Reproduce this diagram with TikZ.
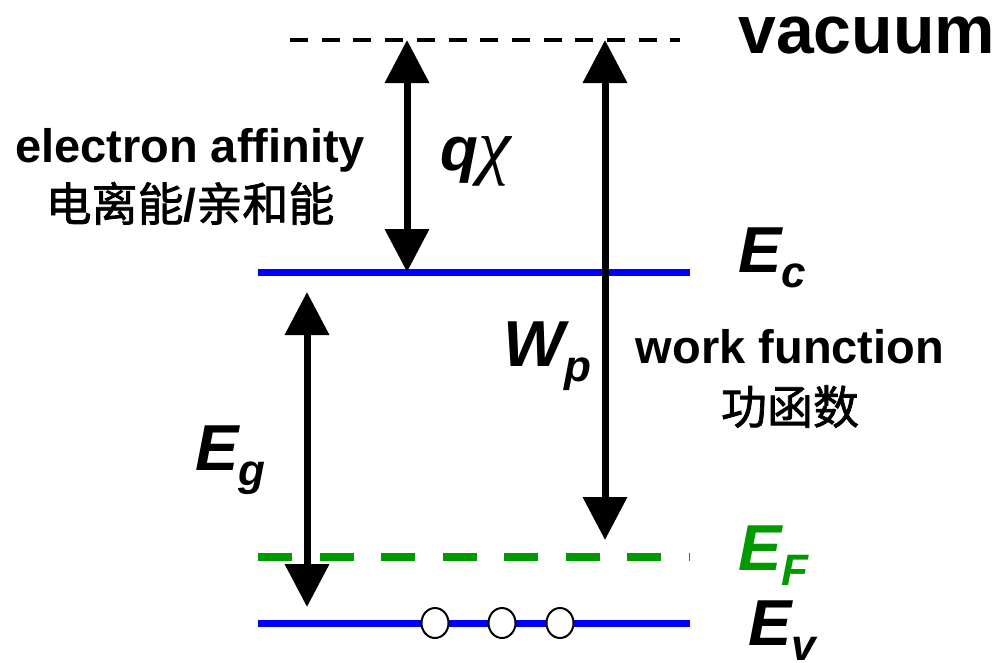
\documentclass[tikz,border=0pt]{standalone}
\usepackage{fontspec}
\setmainfont{Liberation Sans}
\newfontfamily\cjk{Noto Sans CJK SC}[FakeBold=1.6]
\newfontfamily\chifont{Liberation Serif}
\usetikzlibrary{arrows.meta,shapes.geometric}
\definecolor{lvlblue}{RGB}{0,0,255}
\definecolor{lvlgreen}{RGB}{0,153,0}
\newcommand\lvlsym[2]{\fontsize{65}{65}\selectfont\bfseries\itshape #1\raisebox{-15pt}{\fontsize{44}{44}\selectfont #2}}
\begin{document}
\begin{tikzpicture}[x=1pt,y=-1pt,
  band/.style={line width=7pt, draw=lvlblue},
  fermi/.style={line width=8pt, draw=lvlgreen, dash pattern=on 34pt off 27.5pt},
  vac/.style={line width=4pt, draw=black, dash pattern=on 18pt off 13.7pt},
  tipA/.tip={Triangle[length=43pt,width=43pt]},
  arr/.style={line width=7pt, draw=black, -tipA},
  darr/.style={line width=7pt, draw=black, tipA-tipA},
  hole/.style={ellipse, draw=black, line width=2pt, fill=white, minimum width=27pt, minimum height=30pt, inner sep=0pt},
  lab/.style={inner sep=0pt, font=\fontsize{47}{50}\selectfont\bfseries},
  cjklab/.style={inner sep=0pt, font=\fontsize{46}{50}\selectfont\cjk},
  sym/.style={inner sep=0pt, anchor=base west}
]
\useasboundingbox (0,0) rectangle (1002,662);
% level end points
\coordinate (vacL) at (290,40);
\coordinate (vacR) at (680,40);
\coordinate (ecL) at (258,272);
\coordinate (ecR) at (690,272);
\coordinate (efL) at (258,557);
\coordinate (efR) at (690,557);
\coordinate (evL) at (258,623);
\coordinate (evR) at (690,623);
% arrow end points
\coordinate (qtop) at (407,40);
\coordinate (qbot) at (407,272);
\coordinate (wtop) at (605,40);
\coordinate (wbot) at (605,540);
\coordinate (gtop) at (307,292);
\coordinate (gbot) at (307,607);
% levels
\draw[vac] (vacL) -- (vacR);
\draw[band] (ecL) -- (ecR);
\draw[fermi] (efL) -- (efR);
\draw[band] (evL) -- (evR);
% arrows
\draw[darr] (qbot) -- (qtop);
\draw[darr] (wbot) -- (wtop);
\draw[darr] (gbot) -- (gtop);
% holes
\node[hole] (h1) at (435,623) {};
\node[hole] (h2) at (502,623) {};
\node[hole] (h3) at (560,623) {};
% labels
\node[sym, font=\fontsize{68}{68}\selectfont\bfseries] (vacuum) at (738,53) {vacuum};
\node[lab, anchor=base] (ea) at (190,162) {electron affinity};
\node[cjklab, anchor=base] (eacn) at (190,221) {电离能{\rmfamily\bfseries /}亲和能};
\node[sym] (qchi) at (440,170) {\fontsize{62}{62}\selectfont\bfseries\itshape q{\chifont\mdseries\fontsize{74}{74}\selectfont χ}};
\node[sym] (Ec) at (738,272) {\lvlsym{E}{c}};
\node[sym] (Wp) at (503,366) {\lvlsym{W}{p}};
\node[lab, anchor=base] (wf) at (790,363) {work function};
\node[cjklab, anchor=base] (wfcn) at (790,424) {功函数};
\node[sym] (Eg) at (195,470) {\lvlsym{E}{g}};
\node[sym, text=lvlgreen] (EF) at (738,570) {\lvlsym{E}{F}};
\node[sym] (Ev) at (748,645) {\lvlsym{E}{v}};
\end{tikzpicture}
\end{document}
